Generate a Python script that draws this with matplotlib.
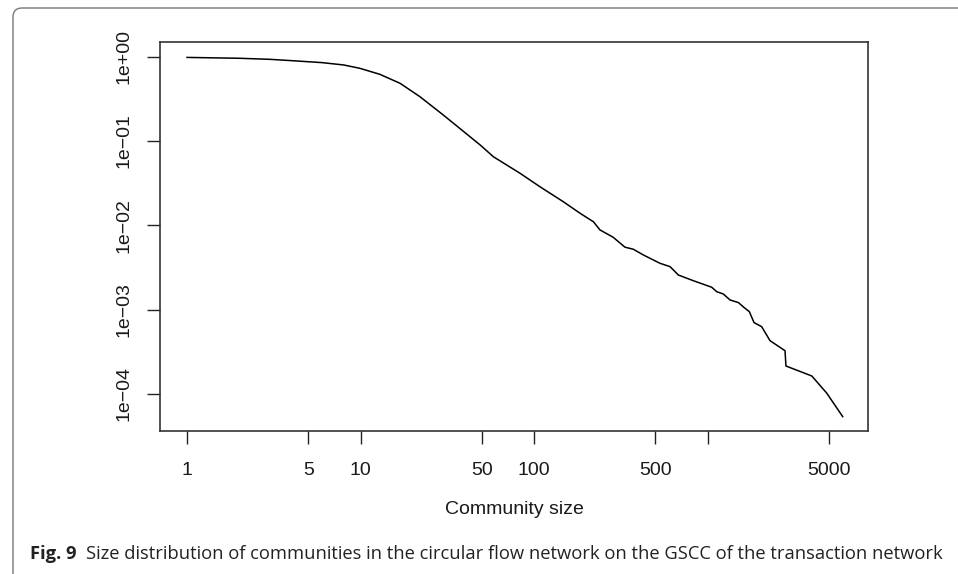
import numpy as np
import matplotlib
matplotlib.use("Agg")
import matplotlib.pyplot as plt
from matplotlib.patches import FancyBboxPatch
from matplotlib.transforms import IdentityTransform

# values (complementary cumulative distribution)
community_size = [1, 2.0, 3.0, 4.0, 6.0, 8.0, 9.9, 12.9, 16.9, 22, 30, 38.3, 48.9,
                  58.3, 83, 108, 147.6, 184, 220, 240, 286, 334, 373, 427, 532,
                  608, 679, 828, 1057, 1130, 1233, 1348, 1507, 1631, 1742, 1854,
                  2051, 2291, 2797, 2832, 3990, 4866, 6014]
ccdf = [0.98, 0.957, 0.93, 0.897, 0.85, 0.797, 0.728, 0.618, 0.483, 0.335, 0.203,
        0.135, 0.0897, 0.065, 0.0414, 0.0287, 0.019, 0.0139, 0.011, 0.0088,
        0.0072, 0.0055, 0.0052, 0.00444, 0.00354, 0.00323, 0.00257, 0.0022,
        0.00184, 0.00163, 0.00153, 0.0013, 0.00121, 0.00105, 0.000944, 0.0007,
        0.000627, 0.000428, 0.000325, 0.000214, 0.000163, 0.000102, 0.0000537]

xtick_vals = [1, 5, 10, 50, 100, 500, 1000, 5000]
xtick_labels = ["1", "5", "10", "50", "100", "500", "", "5000"]
ytick_vals = [1, 1e-1, 1e-2, 1e-3, 1e-4]
ytick_labels = ["1e+00", "1e\u221201", "1e\u221202", "1e\u221203", "1e\u221204"]

W, H = 958, 574
plt.rcParams['font.family'] = ['Liberation Sans', 'DejaVu Sans']
fig = plt.figure(figsize=(W / 100, H / 100), dpi=100)

# outer frame of the figure panel (pixel coords, right/bottom run off the page)
frame = FancyBboxPatch((13, -40), W + 40, H - 8 + 40, transform=IdentityTransform(),
                       boxstyle="round,pad=0,rounding_size=9",
                       fill=False, edgecolor="#777777", lw=1.0, clip_on=False)
fig.patches.append(frame)

ax = fig.add_axes([160 / W, 1 - 430.7 / H, (868 - 160) / W, (430.7 - 42) / H])
ax.plot(community_size, ccdf, color="black", lw=1.1)
ax.set_xscale("log")
ax.set_yscale("log")
ax.set_xlim(10 ** -0.156, 10 ** 3.925)
ax.set_ylim(10 ** -4.437, 10 ** 0.174)

ax.set_xticks(xtick_vals)
ax.set_xticklabels(xtick_labels)
ax.set_yticks(ytick_vals)
ax.set_yticklabels(ytick_labels, rotation=90, va="center")
ax.minorticks_off()
ax.tick_params(axis="both", direction="out", length=9.5, width=1.0, colors="#222222",
               labelsize=14, labelcolor="#1a1a1a")
ax.tick_params(axis="x", pad=13)
ax.tick_params(axis="y", pad=10)
for s in ax.spines.values():
    s.set_linewidth(1.2)
    s.set_color("#333333")

fig.text(514 / W, 1 - 510 / H, "Community size", ha="center", va="center",
         fontsize=14, color="#1a1a1a")

# caption
cap_y = 1 - 554 / H
t1 = fig.text(30 / W, cap_y, "Fig. 9", fontweight="bold", fontsize=13.2,
              family=["Open Sans", "DejaVu Sans"], va="center", color="#222222")
fig.canvas.draw()
bb = t1.get_window_extent()
fig.text((bb.x1 + 9) / W, cap_y,
         "Size distribution of communities in the circular flow network on the GSCC of the transaction network",
         fontsize=13.2, family=["Open Sans", "DejaVu Sans"], va="center", color="#222222")

fig.savefig("out.png", dpi=100)
